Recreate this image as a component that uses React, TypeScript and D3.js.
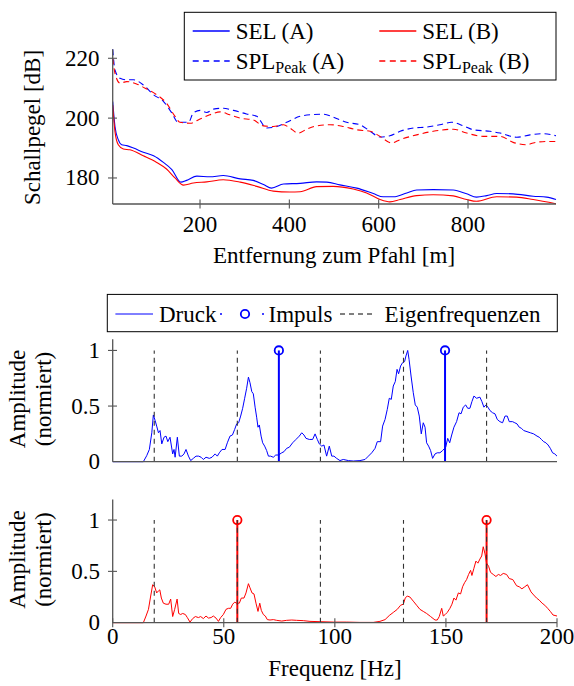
import React, { useRef, useEffect } from 'react';
import * as d3 from 'd3';

// distance [m] / level [dB]
const selA: [number, number][] = [
  [4.5, 205.5], [9.6, 197.2], [17, 192.8], [24.6, 191.1], [36, 190.8], [51, 190], [73, 188.6], [96, 187.4],
  [118, 185.2], [137, 182.8], [157, 178.6], [170, 179.2], [193, 180.6], [222, 180.4], [252, 180.8],
  [290, 179.7], [319, 179.2], [342, 177.8], [360, 176.6], [387, 178], [424, 178.2], [461, 178.7],
  [484, 178.6], [513, 177.7], [551, 176.6], [588, 174.8], [610, 173.7], [633, 173.7], [663, 175],
  [685, 176], [722, 176.1], [767, 176], [797, 174.7], [819, 173.6], [842, 174.1], [864, 174.8],
  [901, 174.7], [946, 173.9], [976, 173.6], [997, 172.8],
];
const selB: [number, number][] = [
  [4.5, 204.4], [9.6, 195.5], [17, 191.1], [28.4, 189.7], [43, 189.4], [73, 187.4], [103, 185.2],
  [125, 183], [144, 180], [163, 177.6], [185, 178.3], [215, 178.7], [252, 179.4], [290, 178.6],
  [327, 177.2], [364, 175.6], [401, 175.3], [424, 175.4], [461, 177.1], [498, 177.2], [543, 176.3],
  [573, 175], [603, 172.8], [625, 172], [648, 172.8], [685, 174.1], [722, 174.4], [767, 174],
  [797, 172.8], [819, 172.2], [864, 173.7], [909, 173.6], [946, 172.8], [997, 171.4],
];
const splA: [number, number][] = [
  [4.5, 223], [9.6, 216.1], [21, 213.3], [36, 212.8], [51, 212.8], [73, 211.1], [96, 207.8], [118, 205.6],
  [137, 201.7], [151, 198.6], [174, 198.6], [185, 201.7], [200, 202.6], [215, 201.9], [230, 203],
  [252, 203.3], [275, 202.6], [304, 201.4], [327, 200.6], [349, 196.7], [372, 197.2], [394, 198.6],
  [424, 200.6], [454, 201.2], [476, 201.3], [499, 200.3], [528, 198.6], [558, 197.8], [581, 195.6],
  [603, 193.7], [625, 194.1], [648, 195.6], [678, 196.7], [707, 197], [737, 197.8], [763, 198.6],
  [790, 197.4], [812, 196.1], [849, 195.6], [872, 195], [909, 193.6], [939, 194.4], [969, 194.8], [997, 194.1],
];
const splB: [number, number][] = [
  [4.5, 220], [9.6, 215], [21, 211.7], [36, 212.2], [58, 211.4], [81, 209.7], [103, 207.8], [125, 205],
  [144, 200.6], [155, 198.6], [178, 198.3], [200, 199.7], [222, 201.1], [245, 202.1], [267, 201.1],
  [290, 200], [319, 199.4], [342, 197.4], [364, 197.2], [387, 197.8], [401, 196.7], [420, 195],
  [439, 196.3], [461, 197.4], [491, 197.8], [521, 197.2], [551, 196.1], [581, 195.6], [603, 193.9],
  [629, 191.7], [648, 192.8], [685, 194.4], [722, 195.6], [767, 196.3], [797, 195], [834, 193.9],
  [872, 193.9], [901, 191.9], [931, 191.1], [946, 191.7], [976, 192.2], [997, 192.2],
];
const topXTicks = [200, 400, 600, 800];
const topYTicks = [180, 200, 220];

// frequency [Hz] / normalised amplitude
const druckA: [number, number][] = [
  [0, 0], [13.8, 0], [15.3, 0.054], [16.5, 0.11], [17.6, 0.26], [18.3, 0.42], [19.1, 0.37], [19.8, 0.32],
  [20.6, 0.26], [21.3, 0.28], [22.1, 0.16], [23.1, 0.22], [24, 0.23], [24.8, 0.18], [25.8, 0.22], [27, 0.07],
  [27.6, 0.11], [28.1, 0.04], [29.1, 0.22], [30, 0.05], [31.1, 0.05], [32.1, 0.07], [33, 0.11], [34.1, 0.05],
  [35.1, 0.01], [36.3, 0.03], [37.5, 0.05], [38.7, 0.05], [39.8, 0.04], [40.8, 0.02], [42, 0.04], [43.5, 0.03],
  [44.7, 0.04], [46.1, 0.07], [47.1, 0.05], [48, 0.08], [49.2, 0.11], [50.6, 0.11], [51.6, 0.17], [52.8, 0.23],
  [53.9, 0.24], [54.9, 0.29], [55.8, 0.34], [56.7, 0.35], [57.6, 0.41], [58.5, 0.48], [59.4, 0.57], [60.3, 0.66],
  [61.1, 0.76], [61.8, 0.71], [62.6, 0.63], [63.3, 0.61], [64.1, 0.49], [64.8, 0.4], [65.4, 0.31], [66, 0.33],
  [66.8, 0.23], [67.5, 0.17], [68.4, 0.14], [69.3, 0.1], [70.1, 0.05], [71.1, 0.05], [72.3, 0.04], [73.4, 0.06],
  [74.6, 0.06], [76.1, 0.08], [77.1, 0.09], [78.3, 0.12], [79.5, 0.13], [81, 0.17], [82.5, 0.2], [84, 0.23],
  [85.1, 0.26], [86.1, 0.24], [87, 0.21], [88.5, 0.2], [90, 0.2], [91.1, 0.25], [92.1, 0.2], [93, 0.16],
  [94.1, 0.14], [95.1, 0.15], [96.3, 0.05], [97.5, 0.14], [98.6, 0.05], [99.6, 0.05], [100.8, 0.03],
  [102.3, 0.01], [103.8, 0.02], [106.1, 0.01], [108.3, 0.006], [111.3, 0.01], [113.6, 0.02], [115.1, 0.05],
  [116.6, 0.08], [118.1, 0.12], [119.1, 0.18], [120.6, 0.18], [121.5, 0.32], [122.6, 0.38], [123.6, 0.47],
  [124.5, 0.57], [125.4, 0.56], [126.3, 0.68], [127.2, 0.72], [128, 0.83], [128.7, 0.79], [129.6, 0.86],
  [130.5, 0.89], [131.4, 0.9], [132, 0.95], [132.8, 1.0], [133.4, 0.92], [134.3, 0.77], [135.3, 0.62],
  [136.2, 0.51], [137.1, 0.49], [138, 0.41], [138.9, 0.25], [139.8, 0.35], [140.6, 0.31], [141.3, 0.17],
  [142.2, 0.14], [143.1, 0.1], [144, 0.03], [145.1, 0.07], [146.1, 0.08], [147.3, 0.08], [148.5, 0.1],
  [149.9, 0.13], [150.8, 0.21], [151.7, 0.17], [152.6, 0.24], [153.6, 0.31], [154.8, 0.36], [155.9, 0.44],
  [156.8, 0.43], [157.8, 0.49], [158.9, 0.51], [159.8, 0.48], [160.8, 0.48], [161.7, 0.54], [162.6, 0.59],
  [163.8, 0.57], [165.3, 0.58], [166.2, 0.54], [167.1, 0.49], [168, 0.51], [168.9, 0.49], [169.8, 0.46],
  [171, 0.44], [172.1, 0.43], [173.1, 0.38], [174.3, 0.36], [175.5, 0.35], [176.6, 0.41], [177.6, 0.41],
  [178.5, 0.36], [180, 0.36], [181, 0.35], [182, 0.34], [183, 0.31], [184, 0.3], [185, 0.28], [186.5, 0.27],
  [188, 0.26], [189.5, 0.25], [191, 0.23], [192, 0.22], [193, 0.2], [194, 0.18], [195, 0.17], [196, 0.15],
  [197, 0.12], [198, 0.08], [199, 0.07], [200, 0.05],
];
const druckB: [number, number][] = [
  [0, 0], [13.8, 0], [15, 0.065], [16.1, 0.13], [17.1, 0.26], [18, 0.37], [18.9, 0.35], [19.8, 0.29],
  [20.6, 0.31], [21.2, 0.32], [21.9, 0.24], [22.8, 0.19], [24, 0.18], [25.2, 0.18], [26.1, 0.23], [27, 0.06],
  [27.9, 0.13], [29, 0.23], [29.7, 0.09], [30.6, 0.08], [31.5, 0.09], [32.7, 0.08], [33.6, 0.05], [34.8, 0.006],
  [36, 0.04], [37.2, 0.06], [38.6, 0.05], [39.6, 0.06], [40.8, 0.04], [42, 0.065], [43.1, 0.045], [44.3, 0.05],
  [45.3, 0.065], [46.5, 0.045], [47.6, 0.013], [48.6, 0.05], [49.8, 0.08], [51, 0.13], [52.1, 0.14],
  [53.1, 0.14], [54, 0.18], [54.9, 0.2], [55.8, 0.19], [57, 0.19], [57.9, 0.24], [59.1, 0.24], [60, 0.29],
  [61.1, 0.38], [61.8, 0.34], [62.7, 0.29], [63.6, 0.28], [64.5, 0.19], [65.4, 0.11], [66.2, 0.19],
  [66.9, 0.12], [67.8, 0.08], [68.7, 0.065], [69.6, 0.03], [70.8, 0.026], [72.3, 0.03], [73.8, 0.023],
  [76.1, 0.016], [78.3, 0.023], [80.6, 0.026], [82.8, 0.023], [85.8, 0.02], [88.8, 0.013], [93.3, 0.01],
  [99.3, 0.006], [105.3, 0.006], [111.3, 0.003], [117.3, 0.003], [120.3, 0.013], [122.6, 0.03], [124.5, 0.07],
  [126.3, 0.1], [128.1, 0.13], [129.6, 0.17], [130.8, 0.18], [131.7, 0.24], [132.6, 0.26], [133.8, 0.25],
  [135.3, 0.21], [136.8, 0.17], [138.3, 0.13], [139.8, 0.11], [141.3, 0.09], [143.1, 0.06], [145.1, 0.026],
  [146.1, 0.026], [147, 0.06], [148.1, 0.14], [148.8, 0.065], [149.7, 0.08], [150.6, 0.1], [151.8, 0.14],
  [152.7, 0.18], [153.6, 0.24], [154.5, 0.22], [155.6, 0.29], [156.6, 0.28], [157.5, 0.35], [158.4, 0.39],
  [159.3, 0.42], [160.2, 0.47], [161.1, 0.51], [161.7, 0.46], [162.6, 0.53], [163.5, 0.6], [164.4, 0.58],
  [165.3, 0.62], [166.1, 0.65], [166.8, 0.74], [167.6, 0.67], [168.3, 0.58], [169.2, 0.55], [170.1, 0.49],
  [171.3, 0.47], [172.5, 0.45], [173.6, 0.47], [174.6, 0.46], [175.8, 0.48], [177.3, 0.47], [178.5, 0.43],
  [180.1, 0.42], [181.8, 0.36], [183, 0.35], [184.2, 0.33], [185.5, 0.35], [186.7, 0.37], [188.3, 0.3],
  [189.5, 0.27], [190.8, 0.24], [192, 0.22], [193.3, 0.19], [194.5, 0.17], [195.8, 0.14], [197, 0.11],
  [198.2, 0.075], [200, 0.065],
];
const eigenfrequenzen = [18.7, 56.1, 93.5, 130.9, 168.3];
const impulsA = [74.8, 149.6];
const impulsB = [56.1, 168.3];
const specXTicks = [0, 50, 100, 150, 200];
const specYTicks = [0, 0.5, 1];

const FONT = 'Liberation Serif, Times New Roman, serif';
const FS = 23;
const AXIS = '#555';
const BLUE = '#0000ff';
const RED = '#ff0000';

type Sel = d3.Selection<SVGGElement, unknown, null, undefined>;

const label = (g: Sel, x: number, y: number, txt: string, anchor = 'middle', rot = 0) =>
  g.append('text')
    .attr('transform', `translate(${x},${y}) rotate(${rot})`)
    .attr('text-anchor', anchor)
    .attr('font-family', FONT)
    .attr('font-size', FS)
    .attr('fill', '#000')
    .text(txt);

const frame = (g: Sel, x0: number, x1: number, y0: number, y1: number) => {
  g.append('line').attr('x1', x0).attr('x2', x0).attr('y1', y0).attr('y2', y1)
    .attr('stroke', AXIS).attr('stroke-width', 1.3);
  g.append('line').attr('x1', x0).attr('x2', x1).attr('y1', y0).attr('y2', y0)
    .attr('stroke', AXIS).attr('stroke-width', 1.3);
};

function drawTop(g: Sel) {
  const x = d3.scaleLinear().domain([4.5, 997]).range([112.7, 556]);
  const y = d3.scaleLinear().domain([171.3, 223]).range([204, 49.3]);
  const line = d3.line<[number, number]>().x(d => x(d[0])).y(d => y(d[1])).curve(d3.curveMonotoneX);

  const series = [
    { data: splA, color: BLUE, dash: '6,4' },
    { data: splB, color: RED, dash: '6,4' },
    { data: selA, color: BLUE, dash: null },
    { data: selB, color: RED, dash: null },
  ];
  series.forEach(s => {
    g.append('path').attr('d', line(s.data)).attr('fill', 'none')
      .attr('stroke', s.color).attr('stroke-width', 1.1)
      .attr('stroke-dasharray', s.dash);
  });

  frame(g, 112.7, 556, 204, 49.3);
  topYTicks.forEach(t => {
    g.append('line').attr('x1', 108).attr('x2', 117).attr('y1', y(t)).attr('y2', y(t))
      .attr('stroke', AXIS).attr('stroke-width', 1.1);
    label(g, 99.5, y(t) + 7.5, String(t), 'end');
  });
  topXTicks.forEach(t => {
    g.append('line').attr('x1', x(t)).attr('x2', x(t)).attr('y1', 199.5).attr('y2', 208.5)
      .attr('stroke', AXIS).attr('stroke-width', 1.1);
    label(g, x(t), 231.5, String(t));
  });
  label(g, 334, 263, 'Entfernung zum Pfahl [m]');
  label(g, 40, 127.5, 'Schallpegel [dB]', 'middle', -90);

  // legend
  g.append('rect').attr('x', 184.3).attr('y', 12.3).attr('width', 371.7).attr('height', 67.7)
    .attr('fill', '#fff').attr('stroke', '#000').attr('stroke-width', 1);
  const items = [
    { x: 192.7, y: 31, color: BLUE, dash: null, name: 'SEL', tag: '(A)', sub: false },
    { x: 379.3, y: 31, color: RED, dash: null, name: 'SEL', tag: '(B)', sub: false },
    { x: 192.7, y: 61, color: BLUE, dash: '6,4.5', name: 'SPL', tag: '(A)', sub: true },
    { x: 379.3, y: 61, color: RED, dash: '6,4.5', name: 'SPL', tag: '(B)', sub: true },
  ];
  items.forEach(it => {
    g.append('line').attr('x1', it.x).attr('x2', it.x + 37).attr('y1', it.y).attr('y2', it.y)
      .attr('stroke', it.color).attr('stroke-width', 1.4).attr('stroke-dasharray', it.dash);
    const t = g.append('text').attr('x', it.x + 43).attr('y', it.y + 7.5)
      .attr('font-family', FONT).attr('font-size', FS).attr('fill', '#000');
    t.append('tspan').text(it.name);
    if (it.sub) {
      t.append('tspan').attr('font-size', 16).attr('dy', 4).text('Peak');
      t.append('tspan').attr('dy', -4).text(` ${it.tag}`);
    } else {
      t.append('tspan').text(` ${it.tag}`);
    }
  });
}

function drawSpectrum(
  g: Sel, data: [number, number][], impulses: number[], color: string,
  top: number, bottom: number, yMax: number, showX: boolean,
) {
  const x = d3.scaleLinear().domain([0, 200]).range([112.7, 557]);
  const y = d3.scaleLinear().domain([0, yMax]).range([bottom, top]);
  const line = d3.line<[number, number]>().x(d => x(d[0])).y(d => y(d[1]));

  g.append('path').attr('d', line(data)).attr('fill', 'none')
    .attr('stroke', color).attr('stroke-width', 1);

  impulses.forEach(f => {
    g.append('line').attr('x1', x(f)).attr('x2', x(f)).attr('y1', y(0)).attr('y2', y(1))
      .attr('stroke', color).attr('stroke-width', 2);
    g.append('circle').attr('cx', x(f)).attr('cy', y(1)).attr('r', 4.2)
      .attr('fill', 'none').attr('stroke', color).attr('stroke-width', 1.8);
  });

  eigenfrequenzen.forEach(f => {
    g.append('line').attr('x1', x(f)).attr('x2', x(f)).attr('y1', y(0)).attr('y2', y(1))
      .attr('stroke', '#333').attr('stroke-width', 1.1).attr('stroke-dasharray', '5,4');
  });

  frame(g, 112.7, 557, bottom, top);
  specYTicks.forEach(t => {
    if (t > 0) {
      g.append('line').attr('x1', 108).attr('x2', 117).attr('y1', y(t)).attr('y2', y(t))
        .attr('stroke', AXIS).attr('stroke-width', 1.1);
    }
    label(g, 100, y(t) + 7.5, String(t), 'end');
  });
  if (showX) {
    specXTicks.forEach(t => {
      g.append('line').attr('x1', x(t)).attr('x2', x(t)).attr('y1', bottom - 4.5).attr('y2', bottom + 4.5)
        .attr('stroke', AXIS).attr('stroke-width', 1.1);
      label(g, x(t), bottom + 21.5, String(t));
    });
    label(g, 335, bottom + 53.5, 'Frequenz [Hz]');
  }
  const mid = (top + bottom) / 2 - 1.5;
  label(g, 24.5, mid, 'Amplitude', 'middle', -90);
  label(g, 50.5, mid, '(normiert)', 'middle', -90);
}

function drawSpecLegend(g: Sel) {
  g.append('rect').attr('x', 107.3).attr('y', 294.4).attr('width', 450).attr('height', 37.3)
    .attr('fill', '#fff').attr('stroke', '#000').attr('stroke-width', 1);
  const cy = 314;
  g.append('line').attr('x1', 115.4).attr('x2', 153).attr('y1', cy).attr('y2', cy)
    .attr('stroke', BLUE).attr('stroke-width', 1);
  label(g, 159, cy + 7.5, 'Druck', 'start');
  g.append('circle').attr('cx', 221).attr('cy', cy).attr('r', 1).attr('fill', BLUE);
  g.append('circle').attr('cx', 263).attr('cy', cy).attr('r', 1).attr('fill', BLUE);
  g.append('circle').attr('cx', 245).attr('cy', cy).attr('r', 4.2)
    .attr('fill', 'none').attr('stroke', BLUE).attr('stroke-width', 1.8);
  label(g, 268.5, cy + 7.5, 'Impuls', 'start');
  g.append('line').attr('x1', 340).attr('x2', 374).attr('y1', cy).attr('y2', cy)
    .attr('stroke', '#000').attr('stroke-width', 1).attr('stroke-dasharray', '5,4');
  label(g, 384.6, cy + 7.5, 'Eigenfrequenzen', 'start');
}

export default function App() {
  const svgRef = useRef<SVGSVGElement>(null);

  useEffect(() => {
    const svg = d3.select(svgRef.current);
    svg.selectAll('*').remove();
    const g = svg.append('g') as unknown as Sel;
    drawTop(g);
    drawSpecLegend(g);
    drawSpectrum(g, druckA, impulsA, BLUE, 339.3, 461.7, 1.1, false);
    drawSpectrum(g, druckB, impulsB, RED, 499.5, 622.7, 1.2, true);
  }, []);

  return (
    <svg ref={svgRef} width={574} height={686}
      style={{ position: 'absolute', left: 0, top: 0, background: '#fff' }} />
  );
}
